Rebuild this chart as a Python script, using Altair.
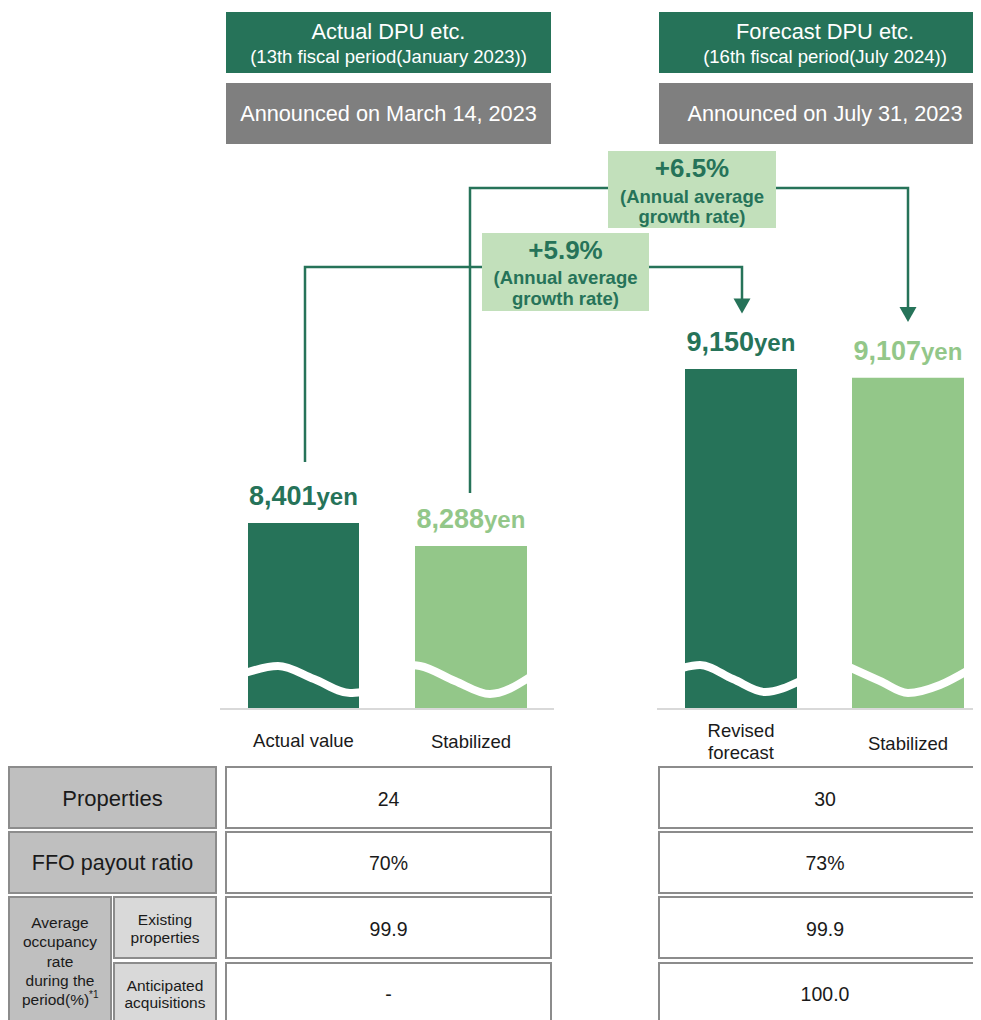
import altair as alt
import pandas as pd

# ---------------- data ----------------
bar_categories = ["Actual value", "Stabilized", "Revised\nforecast", "Stabilized"]
dpu_yen = [8401, 8288, 9150, 9107]
growth_rates = ["+5.9%", "+6.5%"]
growth_note = ["(Annual average", "growth rate)"]
panel_titles = ["Actual DPU etc.", "Forecast DPU etc."]
panel_periods = ["(13th fiscal period(January 2023))", "(16th fiscal period(July 2024))"]
panel_announced = ["Announced on March 14, 2023", "Announced on July 31, 2023"]
row_labels = ["Properties", "FFO payout ratio"]
occupancy_label = ["Average", "occupancy", "rate", "during the", "period(%)"]
occupancy_note = "*1"
occupancy_sub = [["Existing", "properties"], ["Anticipated", "acquisitions"]]
actual_values = ["24", "70%", "99.9", "-"]
forecast_values = ["30", "73%", "99.9", "100.0"]
BAR_FLOOR = 7500  # truncated axis floor (wave break)

# ---------------- style / layout ----------------
FONT = "Liberation Sans"
DARK = "#267359"
LIGHT = "#93c789"
BOXC = "#c2e0bb"
HDR = "#7f7f7f"
TH = "#bfbfbf"
TS = "#d9d9d9"
BORDER = "#8c8c8c"
BASEC = "#d9d9d9"
INK = "#1a1a1a"
WHITE = "#ffffff"

W, H = 965, 1012
PANEL_X = [(226, 551), (659, 991)]
TITLE_Y = (12, 73)
ANNOUNCE_Y = (83, 144)
BAR_X = [(248, 359), (415, 527), (685, 797), (852, 964)]
BAR_COLORS = [DARK, LIGHT, DARK, LIGHT]
CAT_Y = [747, 748, 737, 750]
ROW_Y = [(767, 828), (832, 893), (897, 958), (963, 1024)]
VAL_BASE = [806, 870, 936, 1001]
GROWTH_BOX = [(482, 649, 233, 311), (608, 776, 151, 228)]
GROWTH_BASE = [(259, 284, 305), (177, 203, 223)]
CONNECT = [
    [(305, 462), (305, 267), (742, 267), (742, 300)],
    [(470, 493), (470, 188), (908, 188), (908, 308)],
]
ARROW_TIP = [(742, 306), (908, 314.5)]
WAVES = [
    [(245, 673), (278, 666), (314, 679), (350, 693), (362, 692)],
    [(412, 665), (420, 666), (455, 681), (490, 694), (530, 677)],
    [(682, 668), (700, 665), (733, 679), (765, 692), (800, 681)],
    [(849, 667), (880, 681), (908, 693), (940, 685), (967, 671)],
]
BASELINES = [(220, 554, 709), (657, 981, 709)]

xs = alt.Scale(domain=[8, 8 + W], nice=False, zero=False)
ys = alt.Scale(domain=[8 + H, 8], nice=False, zero=False)
yen = alt.Scale(domain=[BAR_FLOOR, max(dpu_yen)], range=[700, 361], nice=False, zero=False)


def px(f):
    return alt.X(f"{f}:Q", scale=xs, axis=None)


def py(f):
    return alt.Y(f"{f}:Q", scale=ys, axis=None)


# ---------------- rectangles ----------------
rects = []


def add_rect(x, x2, y, y2, fill, stroke="transparent", sw=0):
    rects.append(dict(x=x, x2=x2, y=y, y2=y2, fill=fill, stroke=stroke, sw=sw))


for xa, xb in PANEL_X:
    add_rect(xa, xb, *TITLE_Y, DARK)
    add_rect(xa, xb, *ANNOUNCE_Y, HDR)
for bx in GROWTH_BOX:
    add_rect(*bx, BOXC)
add_rect(9, 216, *ROW_Y[0], TH, BORDER, 2)
add_rect(9, 216, *ROW_Y[1], TH, BORDER, 2)
add_rect(9, 111, ROW_Y[2][0], ROW_Y[3][1], TH, BORDER, 2)
add_rect(114, 216, *ROW_Y[2], TS, BORDER, 2)
add_rect(114, 216, *ROW_Y[3], TS, BORDER, 2)
for xa, xb in PANEL_X:
    for ya, yb in ROW_Y:
        add_rect(xa, xb, ya, yb, WHITE, BORDER, 2)
rect_df = pd.DataFrame(rects)

# ---------------- connectors ----------------
con = []
for i, pts in enumerate(CONNECT):
    for j, (x, y) in enumerate(pts):
        con.append(dict(id=i, o=j, x=x, y=y))
con_df = pd.DataFrame(con)
arrow_df = pd.DataFrame([dict(x=x, y=y) for x, y in ARROW_TIP])

wave = []
for i, pts in enumerate(WAVES):
    for j, (x, y) in enumerate(pts):
        wave.append(dict(id=i, o=j, x=x, y=y))
wave_df = pd.DataFrame(wave)

base_df = pd.DataFrame([dict(x=a, x2=b, y=c) for a, b, c in BASELINES])

# ---------------- bars ----------------
bar_df = pd.DataFrame(dict(
    x=[b[0] for b in BAR_X], x2=[b[1] for b in BAR_X],
    xc=[(b[0] + b[1]) / 2 for b in BAR_X],
    dpu=dpu_yen, color=BAR_COLORS, cat=bar_categories, cy=CAT_Y,
))

# ---------------- texts ----------------
normal = []
for i, (xa, xb) in enumerate(PANEL_X):
    cx = (xa + xb) / 2
    normal.append(dict(x=cx, y=39, text=panel_titles[i], size=21.8, color=WHITE))
    normal.append(dict(x=cx, y=63, text=panel_periods[i], size=18.5, color=WHITE))
    normal.append(dict(x=cx, y=121, text=panel_announced[i], size=21.7, color=WHITE))
    vals = actual_values if i == 0 else forecast_values
    for v, yb in zip(vals, VAL_BASE):
        normal.append(dict(x=cx, y=yb, text=v, size=19.5, color=INK))
normal.append(dict(x=112.5, y=806, text=row_labels[0], size=22, color=INK))
normal.append(dict(x=112.5, y=870, text=row_labels[1], size=21.5, color=INK))
for t, yb in zip(occupancy_label, [928, 947, 966.5, 986, 1005]):
    normal.append(dict(x=60 if t != occupancy_label[-1] else 55.5, y=yb, text=t, size=15.5, color=INK))
for t, yb in zip(occupancy_sub[0], [925, 943]):
    normal.append(dict(x=165, y=yb, text=t, size=15.5, color=INK))
for t, yb in zip(occupancy_sub[1], [991, 1008]):
    normal.append(dict(x=165, y=yb, text=t, size=15.5, color=INK))
normal_df = pd.DataFrame(normal)
note_df = pd.DataFrame([dict(x=89, y=998, text=occupancy_note)])

bold = []
for i, (xa, xb, ya, yb) in enumerate(GROWTH_BOX):
    cx = (xa + xb) / 2
    b0, b1, b2 = GROWTH_BASE[i]
    bold.append(dict(x=cx, y=b0, text=growth_rates[i], size=26))
    bold.append(dict(x=cx, y=b1, text=growth_note[0], size=18.5))
    bold.append(dict(x=cx, y=b2, text=growth_note[1], size=18.5))
bold_df = pd.DataFrame(bold)

# ---------------- layers ----------------
lines = alt.Chart(con_df).mark_line(color=DARK, strokeWidth=2.5, strokeJoin="miter", strokeCap="butt").encode(
    x=px("x"), y=py("y"), detail="id:N", order="o:Q")
arrows = alt.Chart(arrow_df).mark_point(
    shape="M-1,-0.88L1,-0.88L0,0.88Z", filled=True, color=DARK, opacity=1, size=289, strokeWidth=0
).encode(x=px("x"), y=py("y"))
boxes = alt.Chart(rect_df).mark_rect().encode(
    x=px("x"), x2="x2", y=py("y"), y2="y2",
    fill=alt.Fill("fill:N", scale=None), stroke=alt.Stroke("stroke:N", scale=None),
    strokeWidth=alt.StrokeWidth("sw:Q", scale=None))
bars = alt.Chart(bar_df).mark_rect().encode(
    x=px("x"), x2="x2", y=alt.Y("dpu:Q", scale=yen, axis=None), y2=alt.datum(BAR_FLOOR),
    fill=alt.Fill("color:N", scale=None))
num_lab = alt.Chart(bar_df).mark_text(
    font=FONT, fontWeight="bold", fontSize=27, align="right", baseline="alphabetic", dx=13, dy=-18
).encode(x=px("xc"), y=alt.Y("dpu:Q", scale=yen, axis=None), text=alt.Text("dpu:Q", format=","),
         color=alt.Color("color:N", scale=None))
yen_lab = alt.Chart(bar_df).mark_text(
    font=FONT, fontWeight="bold", fontSize=24, align="left", baseline="alphabetic", dx=13, dy=-18
).encode(x=px("xc"), y=alt.Y("dpu:Q", scale=yen, axis=None), text=alt.value("yen"),
         color=alt.Color("color:N", scale=None))
waves = alt.Chart(wave_df).mark_line(color=WHITE, strokeWidth=8, interpolate="monotone").encode(
    x=px("x"), y=py("y"), detail="id:N", order="o:Q")
baselines = alt.Chart(base_df).mark_rule(color=BASEC, strokeWidth=2).encode(
    x=px("x"), x2="x2", y=py("y"))
cats = alt.Chart(bar_df).mark_text(
    font=FONT, fontSize=18.5, align="center", baseline="alphabetic", lineBreak="\n", lineHeight=22, color=INK
).encode(x=px("xc"), y=py("cy"), text="cat:N")
texts = alt.Chart(normal_df).mark_text(font=FONT, align="center", baseline="alphabetic").encode(
    x=px("x"), y=py("y"), text="text:N", size=alt.Size("size:Q", scale=None),
    color=alt.Color("color:N", scale=None))
note = alt.Chart(note_df).mark_text(font=FONT, fontSize=10, align="left", baseline="alphabetic", color=INK).encode(
    x=px("x"), y=py("y"), text="text:N")
btexts = alt.Chart(bold_df).mark_text(font=FONT, fontWeight="bold", align="center", baseline="alphabetic",
                                      color=DARK).encode(
    x=px("x"), y=py("y"), text="text:N", size=alt.Size("size:Q", scale=None))

chart = alt.layer(
    lines, arrows, boxes, bars, waves, baselines, num_lab, yen_lab, cats, texts, note, btexts
).resolve_scale(y="independent").properties(
    width=W, height=H, autosize=alt.AutoSizeParams(type="none"), padding=0
).configure_view(stroke=None)

chart.save("out.html", embed_options={"renderer": "svg", "actions": False})
